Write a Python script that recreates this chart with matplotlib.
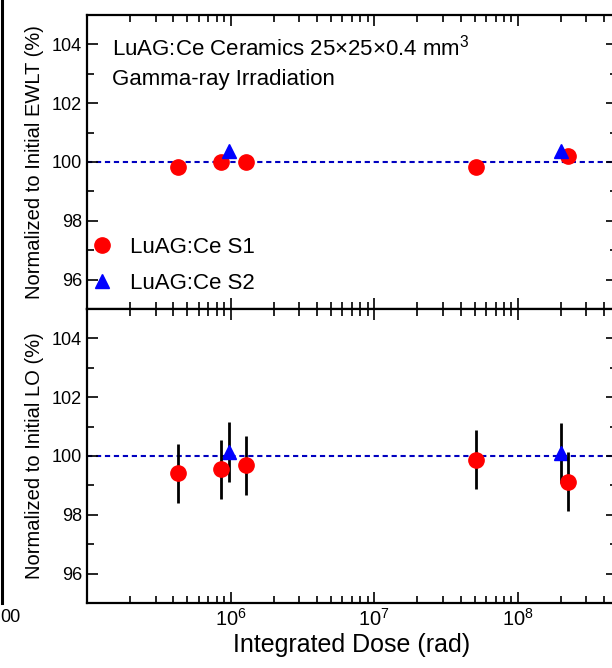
import numpy as np
import matplotlib.pyplot as plt
from matplotlib.lines import Line2D

plt.rcParams['font.family'] = ['Liberation Sans', 'DejaVu Sans']
plt.rcParams['mathtext.fontset'] = 'custom'
plt.rcParams['mathtext.rm'] = 'Liberation Sans'
plt.rcParams['mathtext.it'] = 'Liberation Sans'
plt.rcParams['mathtext.bf'] = 'Liberation Sans'

# Data
s1_dose = [4.3e5, 8.6e5, 1.28e6, 5.1e7, 2.22e8]
s2_dose = [9.8e5, 2.0e8]

s1_ewlt = [99.83, 100.0, 100.0, 99.83, 100.21]
s2_ewlt = [100.36, 100.36]

s1_lo = [99.41, 99.55, 99.68, 99.87, 99.13]
s1_lo_err = [1.0, 1.0, 1.0, 1.0, 1.0]
s2_lo = [100.15, 100.1]
s2_lo_err = [1.02, 1.03]

yticks = [96, 98, 100, 102, 104]
xticks = [1e6, 1e7, 1e8]
xticklabels = [r'$\mathregular{10^{6}}$', r'$\mathregular{10^{7}}$', r'$\mathregular{10^{8}}$']

fig = plt.figure(figsize=(6.12, 6.68), dpi=100)
ax1 = fig.add_axes([87/612, 1 - 309/668, 530/612, 294/668])
ax2 = fig.add_axes([87/612, 1 - 603/668, 530/612, 294/668])

dash = dict(color='#0000c0', linestyle=(0, (2.5, 1.8)), linewidth=1.5, zorder=1)

for ax in (ax1, ax2):
    ax.set_xscale('log')
    ax.set_xlim(1e5, 4.9e8)
    ax.set_ylim(95, 105)
    ax.axhline(100, **dash)
    ax.set_yticks(yticks)
    ax.set_yticks([95, 97, 99, 101, 103, 105], minor=True)
    ax.set_xticks(xticks)
    ax.tick_params(which='both', direction='in', top=True, right=True, width=1.2, labelsize=13)
    ax.tick_params(which='major', length=8)
    ax.tick_params(which='minor', length=5)
    for sp in ax.spines.values():
        sp.set_linewidth(1.6)

ax1.tick_params(labelbottom=False)
ax2.set_xticklabels(xticklabels, fontsize=14.5)

# top panel: EWLT
ax1.plot(s1_dose, s1_ewlt, 'o', color='#ff0000', markersize=11, label='LuAG:Ce S1', zorder=3)
ax1.plot(s2_dose, s2_ewlt, '^', color='#0000ff', markersize=10, label='LuAG:Ce S2', zorder=4)
ax1.set_ylabel('Normalized to Initial EWLT (%)', fontsize=14.5, labelpad=6)
ax1.text(0.048, 0.935, 'LuAG:Ce Ceramics 25\u00d725\u00d70.4 mm$^{3}$\nGamma-ray Irradiation',
         transform=ax1.transAxes, fontsize=16, va='top', ha='left', linespacing=1.55)
ax1.legend(loc='lower left', frameon=False, fontsize=16, handletextpad=0.9,
           borderaxespad=0.0, labelspacing=0.7, handlelength=0.8,
           bbox_to_anchor=(-0.006, 0.02))

# bottom panel: LO
ax2.errorbar(s1_dose, s1_lo, yerr=s1_lo_err, fmt='o', color='#ff0000', ecolor='black',
             elinewidth=2, capsize=0, markersize=11, zorder=3)
ax2.errorbar(s2_dose, s2_lo, yerr=s2_lo_err, fmt='^', color='#0000ff', ecolor='black',
             elinewidth=2, capsize=0, markersize=10, zorder=2)
ax2.set_ylabel('Normalized to Initial LO (%)', fontsize=14.5, labelpad=6)
ax2.set_xlabel('Integrated Dose (rad)', fontsize=18, labelpad=2)

# sliver of the neighbouring panel at the left edge
fig.add_artist(Line2D([1.5/612, 1.5/612], [1 - 603/668, 1.0], color='black', linewidth=2.2,
                      transform=fig.transFigure))
fig.text(0.0, 1 - 618/668, '00', fontsize=13, va='center', ha='left')

fig.savefig('out.png', dpi=100)
